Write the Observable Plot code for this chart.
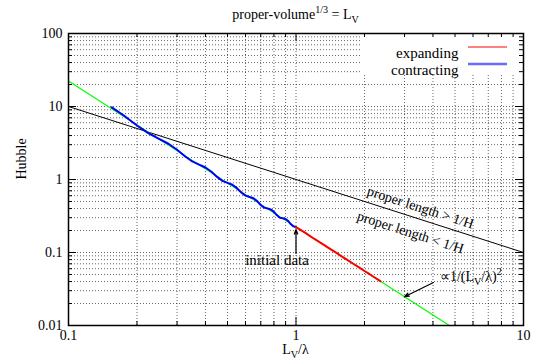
<!DOCTYPE html>
<html><head><meta charset="utf-8">
<script src="https://cdn.jsdelivr.net/npm/d3@7"></script>
<script src="https://cdn.jsdelivr.net/npm/@observablehq/plot@0.6"></script>
<style>
body{margin:0;background:#fff;}
#wrap{position:relative;width:535px;height:361px;font-family:"Liberation Serif",serif;color:#000;overflow:hidden;}
#wrap svg text{font-family:"Liberation Serif",serif;}
.ov{position:absolute;white-space:nowrap;font-size:14px;line-height:1;font-family:"Liberation Serif",serif;}
.ov sup,.ov sub{font-size:72%;line-height:0;}
</style></head><body><div id="wrap"></div>
<script>
// ---- data ----
const xTicks = [0.1, 1, 10];
const yTicks = [0.01, 0.1, 1, 10, 100];
const xMinor = [0.2,0.3,0.4,0.5,0.6,0.7,0.8,0.9,2,3,4,5,6,7,8,9];
const yMinor = [0.02,0.03,0.04,0.05,0.06,0.07,0.08,0.09,0.2,0.3,0.4,0.5,0.6,0.7,0.8,0.9,2,3,4,5,6,7,8,9,20,30,40,50,60,70,80,90];
// proper length = 1/H line
const blackX = [0.1, 10];
const blackY = [10, 0.1];
// ∝ 1/(L/λ)^2 line
const greenX = [0.1, 4.722];
const greenY = [22.3, 0.01];
// contracting (blue)
const blueX = [0.155,0.175,0.2,0.225,0.25,0.275,0.3,0.325,0.35,0.375,0.4,0.425,0.45,0.475,0.5,0.525,0.55,0.575,0.6,0.625,0.65,0.675,0.7,0.725,0.75,0.775,0.8,0.825,0.85,0.875,0.9,0.925,0.95,0.975,1.0];
const blueY = [9.74,7.52,5.49,4.275,3.6,3.088,2.559,2.08,1.767,1.6,1.46,1.275,1.085,0.959,0.9,0.847,0.761,0.665,0.601,0.576,0.553,0.506,0.448,0.412,0.4,0.389,0.36,0.323,0.3,0.294,0.288,0.269,0.2435,0.2277,0.222];
// expanding (red)
const redX = [1.0,1.1,1.2,1.3,1.4,1.5,1.6,1.7,1.8,1.9,2.0,2.1,2.2,2.35];
const redY = [0.222,0.186,0.1545,0.1325,0.1140,0.0995,0.0872,0.0775,0.0690,0.0620,0.0558,0.0508,0.0462,0.0405];
const legendLabels = ["expanding", "contracting"];
const legendColors = ["#ff0000", "#6b6bff"];
const labels = [
  {x: 3.526, y: 0.4135, t: "proper length > 1/H"},
  {x: 3.186, y: 0.188, t: "proper length < 1/H"}
];
const initLabel = [{x: 0.825, y: 0.0777, t: "initial data"}];
const arrows = [
  {x1: 1, y1: 0.0969, x2: 1, y2: 0.2065},
  {x1: 4.02, y1: 0.0388, x2: 3, y2: 0.0248}
];

// ---- layout ----
const W = 535, H = 361, mL = 68, mR = 12, mT = 33, mB = 36;
const fw = W - mL - mR, fh = H - mT - mB;
const FONT = "Liberation Serif";
const zip = (xs, ys) => xs.map((x, i) => ({x, y: ys[i]}));
const grid = {stroke: "#000", strokeOpacity: 0.6, strokeDasharray: "1,2", strokeWidth: 1};

const chart = Plot.plot({
  width: W, height: H,
  marginLeft: mL, marginRight: mR, marginTop: mT, marginBottom: mB,
  style: {fontFamily: FONT, fontSize: "14px", background: "white", color: "#000"},
  x: {type: "log", domain: [0.1, 10], ticks: xTicks, tickSize: 0, tickPadding: 5, tickFormat: d => String(d), label: null},
  y: {type: "log", domain: [0.01, 100], ticks: yTicks, tickSize: 0, tickPadding: 6, tickFormat: d => String(d), label: null},
  marks: [
    Plot.ruleX([...xMinor, ...xTicks], grid),
    Plot.ruleY([...yMinor, ...yTicks], grid),
    Plot.line(zip(blackX, blackY), {x: "x", y: "y", stroke: "#000", strokeWidth: 1}),
    Plot.line(zip(greenX, greenY), {x: "x", y: "y", stroke: "#00ff00", strokeWidth: 1.2}),
    Plot.line(zip(blueX, blueY), {x: "x", y: "y", stroke: "#0000ff", strokeWidth: 2}),
    Plot.line(zip(redX, redY), {x: "x", y: "y", stroke: "#ff0000", strokeWidth: 2}),
    // inward ticks
    Plot.ruleY(yTicks, {insetRight: fw - 8, stroke: "#000"}),
    Plot.ruleY(yTicks, {insetLeft: fw - 8, stroke: "#000"}),
    Plot.ruleY(yMinor, {insetRight: fw - 4, stroke: "#000"}),
    Plot.ruleY(yMinor, {insetLeft: fw - 4, stroke: "#000"}),
    Plot.ruleX(xTicks, {insetTop: fh - 8, stroke: "#000"}),
    Plot.ruleX(xTicks, {insetBottom: fh - 8, stroke: "#000"}),
    Plot.ruleX(xMinor, {insetTop: fh - 4, stroke: "#000"}),
    Plot.ruleX(xMinor, {insetBottom: fh - 4, stroke: "#000"}),
    Plot.frame({stroke: "#000", strokeWidth: 1.5}),
    Plot.text(["Hubble"], {frameAnchor: "left", rotate: -90, dx: -47, fontSize: 14, fontFamily: FONT}),
    Plot.text(labels, {x: "x", y: "y", text: "t", rotate: 17.8, fontSize: 14, fontFamily: FONT}),
    Plot.text(initLabel, {x: "x", y: "y", text: "t", fontSize: 15, fontFamily: FONT}),
    Plot.arrow(arrows, {x1: "x1", y1: "y1", x2: "x2", y2: "y2", stroke: "#000", strokeWidth: 1.2, headLength: 6, headAngle: 40}),
    Plot.text([legendLabels[0]], {frameAnchor: "top-right", textAnchor: "end", dx: -65, dy: 14, fontSize: 15, fontFamily: FONT}),
    Plot.text([legendLabels[1]], {frameAnchor: "top-right", textAnchor: "end", dx: -65, dy: 31, fontSize: 15, fontFamily: FONT})
  ]
});

const wrap = document.getElementById("wrap");
wrap.appendChild(chart);

// legend background (covers grid, under curves) & swatches
const ns = "http://www.w3.org/2000/svg";
const firstLine = chart.querySelector('[aria-label="line"]');
const bg = document.createElementNS(ns, "rect");
bg.setAttribute("x", W - mR - 162); bg.setAttribute("y", mT);
bg.setAttribute("width", 162); bg.setAttribute("height", 40);
bg.setAttribute("fill", "white");
if (firstLine) firstLine.parentNode.insertBefore(bg, firstLine);
legendColors.forEach((c, i) => {
  const l = document.createElementNS(ns, "line");
  l.setAttribute("x1", W - mR - 55); l.setAttribute("x2", W - mR - 16);
  l.setAttribute("y1", mT + 14 + i * 17); l.setAttribute("y2", mT + 14 + i * 17);
  l.setAttribute("stroke", c); l.setAttribute("stroke-width", i ? 2.5 : 1.2);
  chart.appendChild(l);
});

// HTML text overlays (with sub/superscripts)
const sx = chart.scale("x"), sy = chart.scale("y");
function overlay(html, left, top, anchor) {
  const d = document.createElement("div");
  d.className = "ov"; d.innerHTML = html;
  d.style.left = left + "px"; d.style.top = top + "px";
  d.style.transform = anchor === "start" ? "translate(0,-50%)" : "translate(-50%,-50%)";
  wrap.appendChild(d);
}
const cx = (mL + W - mR) / 2;
overlay("proper-volume<sup>1/3</sup> = L<sub>V</sub>", cx, 15, "middle");
overlay("L<sub>V</sub>/&lambda;", cx, 350, "middle");
overlay("&prop;1/(L<sub>V</sub>/&lambda;)<sup>2</sup>", sx.apply(4.315), sy.apply(0.0455), "start");
</script>
</body></html>
